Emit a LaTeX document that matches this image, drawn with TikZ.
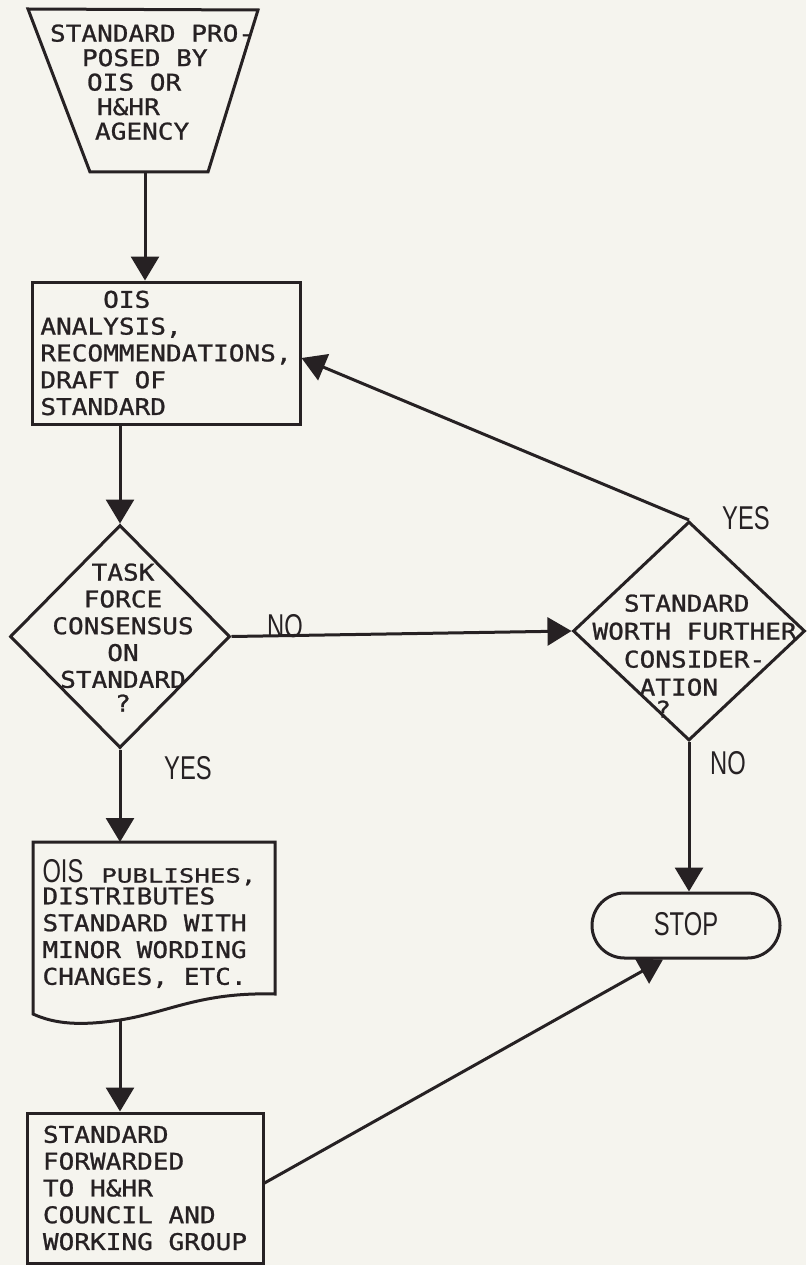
\documentclass[tikz,border=0pt]{standalone}
\usepackage{fontspec}
\usetikzlibrary{shapes.geometric,shapes.misc,arrows.meta,calc}
% typewriter lettering and the narrow lettering of the answers
\newfontfamily\monofnt{DejaVu Sans Mono}[FakeStretch=1.134,FakeBold=1]
\newfontfamily\monosmall{DejaVu Sans Mono}[FakeStretch=1.32,FakeBold=1]
\newfontfamily\labelfnt{Liberation Sans}[FakeStretch=0.72]
\definecolor{paper}{RGB}{245,244,238}
\definecolor{ink}{RGB}{38,33,35}

\begin{document}
\begin{tikzpicture}[x=1pt,y=-1pt,color=ink,line width=3pt,
  mono/.style={font=\monofnt\fontsize{23}{26.8}\selectfont, inner sep=0pt},
  boxnode/.style={draw, rectangle, align=left, mono},
  decision/.style={draw, diamond, inner sep=0pt},
  flow/.style={-{Triangle[width=28pt,length=24pt]}},
  answer/.style={font=\labelfnt\fontsize{33}{36}\selectfont, inner sep=0pt},
]
\fill[paper] (0,0) rectangle (806,1265);
\useasboundingbox (0,0) rectangle (806,1265);

% start: proposal (trapezoid)
\node[mono, align=left, anchor=north west, font=\monofnt\fontsize{23}{24.5}\selectfont]
  (src) at (48.5,23)
  {STANDARD PRO-\\\hspace*{32pt}POSED BY\\\hspace*{37pt}OIS OR\\\hspace*{47pt}H\&HR\\\hspace*{45pt}AGENCY};
\draw (28,9) -- (258,10) -- (208,172) -- (90,172) -- cycle;
\coordinate (srcb) at (145,172);

% analysis box
\node[boxnode, minimum width=268pt, minimum height=142pt] (b1) at (166,353)
  {\phantom{AAAA}OIS\\ANALYSIS,\\RECOMMENDATIONS,\\DRAFT OF\\STANDARD};

% first decision
\node[decision, minimum width=220pt, minimum height=223pt] (d1) at (120,636.5) {};
\node[mono, align=center, anchor=north] (d1t) at (123,562)
  {TASK\\FORCE\\CONSENSUS\\ON\\STANDARD\\[-3pt]?};

% second decision
\node[decision, minimum width=232pt, minimum height=219pt] (d2) at (689,631) {};
\node[mono, align=left, anchor=north west, font=\monofnt\fontsize{23}{28}\selectfont]
  (d2t) at (591,593)
  {\phantom{AA}STANDARD\\WORTH FURTHER\\\phantom{AA}CONSIDER-\\\phantom{AAA}ATION\\[-6pt]\phantom{AAAA}?};

% publication (document shape)
\node[mono, align=left, anchor=north west] (doc) at (41,858)
  {{\labelfnt\fontsize{33}{36}\selectfont OIS}\hspace{18pt}{\monosmall\fontsize{19.5}{20}\selectfont PUBLISHES,}\\[-5pt]DISTRIBUTES\\STANDARD WITH\\MINOR WORDING\\CHANGES, ETC.};
\draw (33,842) -- (275,842) -- (275,994)
  .. controls (200,992) and (170,1012) .. (120,1020)
  .. controls (80,1026) and (55,1024) .. (33,1014) -- cycle;
\coordinate (doct) at (120,842);
\coordinate (docb) at (120,1020);

% forwarding box
\node[boxnode, minimum width=236pt, minimum height=150pt] (b3) at (145,1188)
  {STANDARD\\FORWARDED\\TO H\&HR\\COUNCIL AND\\WORKING GROUP};

% terminal
\node[draw, rounded rectangle, minimum width=188pt, minimum height=65pt, answer]
  (stop) at (686,925.5) {\raisebox{3pt}{STOP}};

% connectors
\draw[flow] (srcb) -- (srcb |- b1.north);
\draw[flow] (d1.north |- b1.south) -- (d1.north);
\draw[flow] (d1.east) -- (d2.west);
\draw[flow] (d2.north) -- ($(b1.east)+(0,5)$);
\draw[flow] (d1.south) -- (doct);
\draw[flow] (docb) -- (docb |- b3.north);
\draw[flow] ($(b3.east)+(0,-5)$) -- ($(stop.south)+(-23,0)$);
\draw[flow] (d2.south) -- (d2.south |- stop.north);

% answers
\node[answer] (noA) at (285,626) {NO};
\node[answer] (yesA) at (188,768) {YES};
\node[answer] (yesB) at (746,518) {YES};
\node[answer] (noB) at (728,763) {NO};
\end{tikzpicture}
\end{document}
